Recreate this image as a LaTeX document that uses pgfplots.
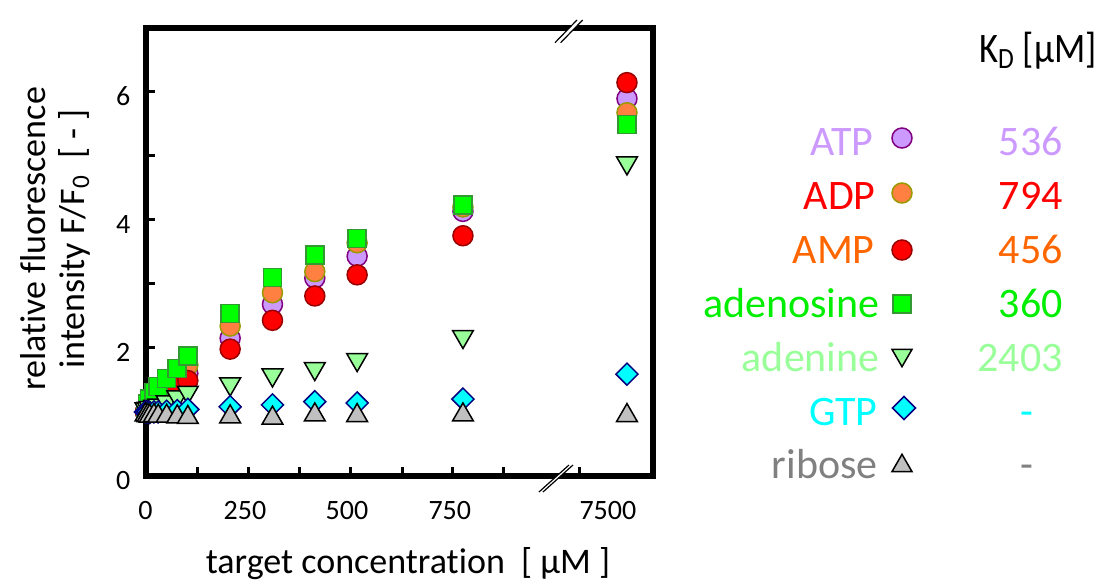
\documentclass[border=0pt]{standalone}
\usepackage{fontspec}
\setmainfont{Carlito}[Ligatures={NoCommon}]
\usepackage{graphicx}
\usepackage{pgfplots}
\pgfplotsset{compat=1.18}
\definecolor{atpF}{HTML}{CC99FF}\definecolor{atpE}{HTML}{800080}
\definecolor{adpF}{HTML}{FF8040}\definecolor{adpE}{HTML}{999900}
\definecolor{ampF}{HTML}{FF0000}\definecolor{ampE}{HTML}{990000}
\definecolor{adoF}{HTML}{00FF00}\definecolor{adoE}{HTML}{339933}
\definecolor{adeF}{HTML}{99FF99}
\definecolor{gtpF}{HTML}{00FFFF}\definecolor{gtpE}{HTML}{000080}
\definecolor{ribF}{HTML}{C0C0C0}
\definecolor{atpT}{HTML}{CC99FF}
\definecolor{adpT}{HTML}{FF0000}
\definecolor{ampT}{HTML}{FF6600}
\definecolor{adoT}{HTML}{00EE00}
\definecolor{adeT}{HTML}{99FF99}
\definecolor{gtpT}{HTML}{00FFFF}
\definecolor{ribT}{HTML}{808080}
\newcommand\legfont{\fontsize{21}{25}\selectfont}
\newcommand\lblfont{\fontsize{18}{19.5}\selectfont}
\newcommand\tf{\fontsize{14}{16}\selectfont}
\begin{document}
\begin{tikzpicture}
\path[use as bounding box] (0,0) rectangle (552pt,289.5pt);
\begin{axis}[
  at={(72.75pt,51.5pt)}, anchor=south west,
  scale only axis, width=253.75pt, height=224.25pt,
  xmin=0, xmax=1199, ymin=0, ymax=7,
  x coord trafo/.code={\pgfmathparse{#1>5000 ? #1-6362.5 : #1}},
  axis line style={line width=3pt},
  tick align=inside, xtick pos=bottom, ytick pos=left,
  major tick length=4.5pt,
  every tick/.style={line width=1.5pt, black},
  /pgf/number format/assume math mode=true,
  xtick={122,244,363,485,606,726,845,7388},
  xticklabels={},
  extra x ticks={0,235,476,719,7455},
  extra x tick labels={\tf 0,\tf 250,\tf 500,\tf 750,\tf 7500},
  extra x tick style={major tick length=0pt},
  xticklabel style={yshift=-9pt},
  ytick={0,1,2,3,4,5,6,7},
  yticklabels={\tf 0,,\tf 2,,\tf 4,,\tf 6,},
  yticklabel style={xshift=-4pt, yshift=-2.3pt},
  clip=false,
]
% ATP
\addplot[only marks, mark=*, mark size=5pt, draw=atpE, fill=atpF, line width=0.75pt] coordinates {
(0,1.00)(5,1.04)(10,1.08)(20,1.15)(30,1.22)(50,1.33)(75,1.47)(100,1.60)
(200,2.15)(300,2.68)(400,3.09)(500,3.43)(750,4.13)(7500,5.89)};
% ADP
\addplot[only marks, mark=*, mark size=5pt, draw=adpE, fill=adpF, line width=0.75pt] coordinates {
(0,1.00)(5,1.05)(10,1.10)(20,1.20)(30,1.28)(50,1.42)(75,1.58)(100,1.73)
(200,2.34)(300,2.86)(400,3.19)(500,3.64)(750,4.20)(7500,5.67)};
% AMP
\addplot[only marks, mark=*, mark size=5pt, draw=ampE, fill=ampF, line width=0.75pt] coordinates {
(0,1.00)(5,1.03)(10,1.06)(20,1.12)(30,1.18)(50,1.27)(75,1.38)(100,1.49)
(200,1.98)(300,2.43)(400,2.81)(500,3.14)(750,3.75)(7500,6.14)};
% adenosine
\addplot[only marks, mark=square*, mark size=4.5pt, draw=adoE, fill=adoF, line width=0.75pt] coordinates {
(0,1.00)(5,1.12)(10,1.20)(20,1.30)(30,1.40)(50,1.52)(75,1.68)(100,1.87)
(200,2.54)(300,3.10)(400,3.45)(500,3.71)(750,4.23)(7500,5.49)};
% adenine
\addplot[only marks, mark=triangle*, mark size=6pt, draw=black, fill=adeF, line width=0.75pt,
  mark options={yshift=1.5pt, rotate=180}] coordinates {
(0,1.00)(5,1.01)(10,1.02)(20,1.04)(30,1.06)(50,1.11)(75,1.19)(100,1.26)
(200,1.39)(300,1.53)(400,1.63)(500,1.77)(750,2.13)(7500,4.84)};
% GTP
\addplot[only marks, mark=square*, mark size=3.9pt, draw=gtpE, fill=gtpF, line width=0.75pt,
  mark options={rotate=45}] coordinates {
(0,1.00)(5,1.00)(10,0.99)(20,1.00)(30,1.00)(50,1.01)(75,1.02)(100,1.04)
(200,1.08)(300,1.11)(400,1.16)(500,1.14)(750,1.20)(7500,1.59)};
% ribose
\addplot[only marks, mark=triangle*, mark size=6pt, draw=black, fill=ribF, line width=0.75pt,
  mark options={yshift=-1.5pt}] coordinates {
(0,1.00)(5,0.99)(10,0.98)(20,0.99)(30,0.98)(50,0.98)(75,0.97)(100,0.96)
(200,0.97)(300,0.95)(400,1.00)(500,0.99)(750,1.00)(7500,0.99)};
\end{axis}
% overlay axis in pixel units for legend, labels and break marks
\begin{axis}[
  at={(440pt,39.5pt)}, anchor=south west,
  scale only axis, width=20pt, height=200pt,
  xmin=880, xmax=920, ymin=100, ymax=500, y dir=reverse,
  hide axis, clip=false,
]
% break marks
\fill[white] (axis cs:539,492) -- (axis cs:543,492) -- (axis cs:573,465) -- (axis cs:569,465) -- cycle;
\draw[black, line width=0.6pt] (axis cs:539,492) -- (axis cs:569,465);
\draw[black, line width=0.6pt] (axis cs:543,492) -- (axis cs:573,465);
\fill[white] (axis cs:555,42.7) -- (axis cs:560.7,42.7) -- (axis cs:582.7,20) -- (axis cs:577,20) -- cycle;
\draw[black, line width=0.6pt] (axis cs:555,42.7) -- (axis cs:577,20);
\draw[black, line width=0.6pt] (axis cs:560.7,42.7) -- (axis cs:582.7,20);
% legend markers
\addplot[only marks, mark=*, mark size=5pt, draw=atpE, fill=atpF, line width=0.75pt] coordinates {(902,138)};
\addplot[only marks, mark=*, mark size=5pt, draw=adpE, fill=adpF, line width=0.75pt] coordinates {(902,193)};
\addplot[only marks, mark=*, mark size=5pt, draw=ampE, fill=ampF, line width=0.75pt] coordinates {(902,250)};
\addplot[only marks, mark=square*, mark size=4.5pt, draw=adoE, fill=adoF, line width=0.75pt] coordinates {(902,304)};
\addplot[only marks, mark=triangle*, mark size=5.8pt, draw=black, fill=adeF, line width=0.75pt,
  mark options={yshift=1.45pt, rotate=180}] coordinates {(902,358)};
\addplot[only marks, mark=square*, mark size=4.05pt, draw=gtpE, fill=gtpF, line width=0.75pt,
  mark options={rotate=45}] coordinates {(904,408)};
\addplot[only marks, mark=triangle*, mark size=5.8pt, draw=black, fill=ribF, line width=0.75pt,
  mark options={yshift=-1.45pt}] coordinates {(902,463)};
% legend texts
\begin{scope}[every node/.style={inner sep=0pt, font=\legfont}]
\node[anchor=base east] at (axis cs:1097,62) {\scalebox{0.87}[1]{K\textsubscript{D} [µM]}};
\node[anchor=base east, text=atpT] at (axis cs:874,155) {ATP};
\node[anchor=base east, text=adpT] at (axis cs:876,209) {ADP};
\node[anchor=base east, text=ampT] at (axis cs:875,263) {AMP};
\node[anchor=base east, text=adoT] at (axis cs:880,317) {adenosine};
\node[anchor=base east, text=adeT] at (axis cs:880,371) {adenine};
\node[anchor=base east, text=gtpT] at (axis cs:878,425) {GTP};
\node[anchor=base east, text=ribT] at (axis cs:878,478) {ribose};
\node[anchor=base east, text=atpT] at (axis cs:1063,155) {536};
\node[anchor=base east, text=adpT] at (axis cs:1063,209) {794};
\node[anchor=base east, text=ampT] at (axis cs:1063,263) {456};
\node[anchor=base east, text=adoT] at (axis cs:1063,317) {360};
\node[anchor=base east, text=adeT] at (axis cs:1063,371) {2403};
\node[anchor=base, text=gtpT] at (axis cs:1027,425) {-};
\node[anchor=base, text=ribT] at (axis cs:1027,478) {-};
\end{scope}
% axis labels
\node[anchor=base, font=\lblfont] at (axis cs:408,573) {target concentration\ \ [ µM ]};
\node[rotate=90, align=center, font=\lblfont] at (axis cs:55,239) {relative fluorescence\\intensity F/F\textsubscript{0}\ \ [ - ]};
\end{axis}
\end{tikzpicture}
\end{document}
